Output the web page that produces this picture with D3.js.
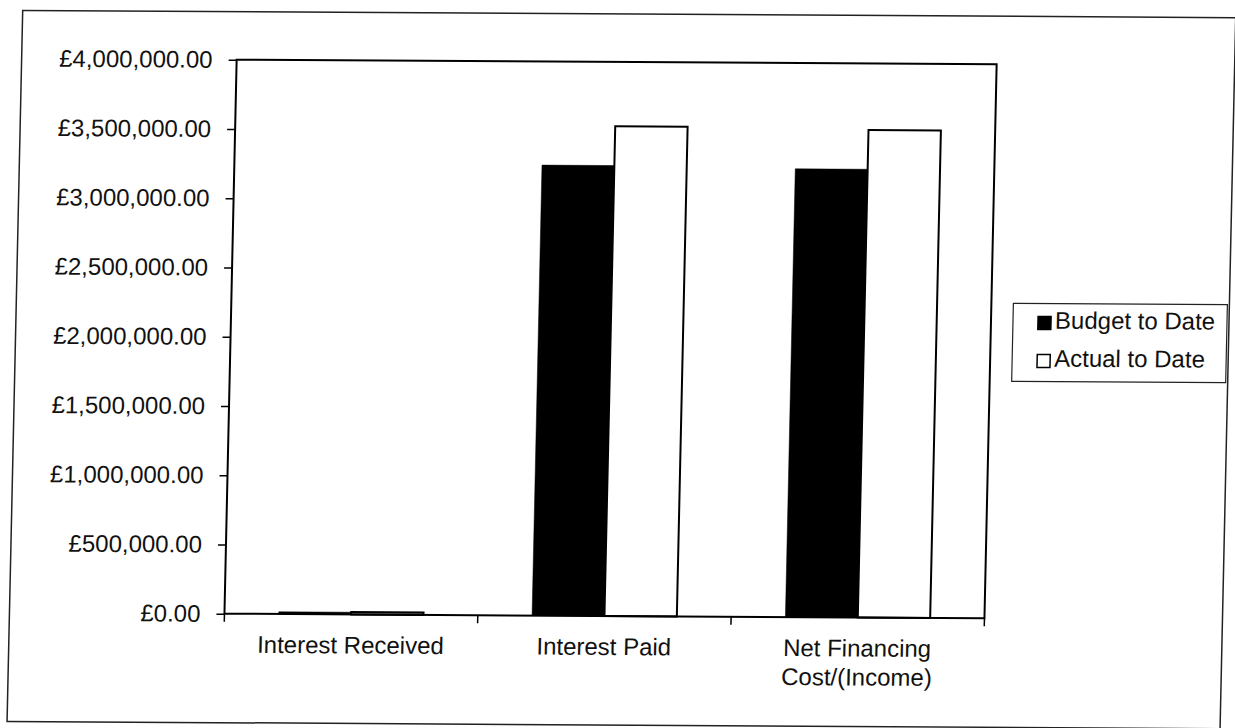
<!DOCTYPE html>
<html>
<head>
<meta charset="utf-8">
<script src="https://cdn.jsdelivr.net/npm/d3@7/dist/d3.min.js"></script>
<style>
  html, body { margin: 0; padding: 0; background: #ffffff; }
  svg { display: block; }
  text { font-family: "Liberation Sans", Arial, sans-serif; fill: #111; }
</style>
</head>
<body>
<svg id="chart" width="1235" height="728"></svg>
<script>
// ---- data ----
const categories = ["Interest Received", "Interest Paid", "Net Financing Cost/(Income)"];
const categoryLabelLines = [["Interest Received"], ["Interest Paid"], ["Net Financing", "Cost/(Income)"]];
const seriesNames = ["Budget to Date", "Actual to Date"];
const budgetToDate = [16000, 3252000, 3236000];
const actualToDate = [17000, 3536000, 3519000];
const yTickValues = [0, 500000, 1000000, 1500000, 2000000, 2500000, 3000000, 3500000, 4000000];

// ---- layout ----
const W = 1235, H = 728;
const plot = { left: 230, right: 990, top: 62, bottom: 616 };
const fontSize = 24;

const svg = d3.select("#chart");
// the reference is a slightly skewed scan; mimic with a small affine transform
const k = 0.022, m = 0.006, x0 = 617, y0 = 364;
const root = svg.append("g")
  .attr("transform", `matrix(1, ${m}, ${-k}, 1, ${k * y0}, ${-m * x0})`);

// outer frame
root.append("rect")
  .attr("x", 15).attr("y", 14).attr("width", 1213).attr("height", 711)
  .attr("fill", "none").attr("stroke", "#222").attr("stroke-width", 1.5);

const x = d3.scaleBand().domain(categories).range([plot.left, plot.right]).padding(0);
const gap = x.bandwidth() * 0.75 / 3.5;
const x1 = d3.scaleBand().domain(seriesNames).range([gap, x.bandwidth() - gap]).padding(0);
const y = d3.scaleLinear().domain([0, 4000000]).range([plot.bottom, plot.top]);

const rows = categories.map((c, i) => ({
  cat: c,
  values: [
    { s: seriesNames[0], v: budgetToDate[i] },
    { s: seriesNames[1], v: actualToDate[i] }
  ]
}));

// bars
const groups = root.append("g").selectAll("g").data(rows).join("g")
  .attr("transform", d => `translate(${x(d.cat)},0)`);
groups.selectAll("rect").data(d => d.values).join("rect")
  .attr("x", d => x1(d.s))
  .attr("y", d => y(d.v))
  .attr("width", x1.bandwidth())
  .attr("height", d => y(0) - y(d.v))
  .attr("fill", d => d.s === seriesNames[0] ? "#000" : "#fff")
  .attr("stroke", "#000")
  .attr("stroke-width", d => d.s === seriesNames[0] ? 0.5 : 2);

// plot frame
root.append("rect")
  .attr("x", plot.left).attr("y", plot.top)
  .attr("width", plot.right - plot.left).attr("height", plot.bottom - plot.top)
  .attr("fill", "none").attr("stroke", "#000").attr("stroke-width", 2);

// y axis
const yAxis = d3.axisLeft(y)
  .tickValues(yTickValues)
  .tickSize(8)
  .tickPadding(16)
  .tickFormat(d => "£" + d3.format(",.2f")(d));
const yg = root.append("g").attr("transform", `translate(${plot.left},0)`).call(yAxis);
yg.select(".domain").remove();
yg.selectAll(".tick line").attr("stroke", "#000").attr("stroke-width", 1.5);
yg.selectAll(".tick text")
  .attr("font-size", fontSize)
  .attr("font-family", "'Liberation Sans', Arial, sans-serif")
  .attr("fill", "#111");

// x axis: ticks at category boundaries, labels centred in bands
const xg = root.append("g");
const boundaries = categories.map(c => x(c)).concat([x.range()[1]]);
xg.selectAll("line").data(boundaries).join("line")
  .attr("x1", d => d).attr("x2", d => d)
  .attr("y1", plot.bottom).attr("y2", plot.bottom + 8)
  .attr("stroke", "#000").attr("stroke-width", 1.5);
const lbl = xg.selectAll("text").data(categories).join("text")
  .attr("x", c => x(c) + x.bandwidth() / 2)
  .attr("y", plot.bottom + 39)
  .attr("text-anchor", "middle")
  .attr("font-size", fontSize);
lbl.each(function(c, i) {
  const t = d3.select(this);
  categoryLabelLines[i].forEach((line, j) => {
    t.append("tspan")
      .attr("x", x(c) + x.bandwidth() / 2)
      .attr("dy", j === 0 ? 0 : 29)
      .text(line);
  });
});

// legend
const legend = root.append("g");
legend.append("rect")
  .attr("x", 1012).attr("y", 301).attr("width", 214).attr("height", 78)
  .attr("fill", "#fff").attr("stroke", "#222").attr("stroke-width", 1.2);
const items = legend.selectAll("g.item").data(seriesNames).join("g")
  .attr("class", "item")
  .attr("transform", (d, i) => `translate(1037, ${314 + i * 38})`);
items.append("rect")
  .attr("x", 0).attr("y", 0).attr("width", 13).attr("height", 13)
  .attr("fill", (d, i) => i === 0 ? "#000" : "#fff")
  .attr("stroke", "#000").attr("stroke-width", 1.5);
items.append("text")
  .attr("x", 17).attr("y", 12)
  .attr("font-size", fontSize)
  .text(d => d);
</script>
</body>
</html>
